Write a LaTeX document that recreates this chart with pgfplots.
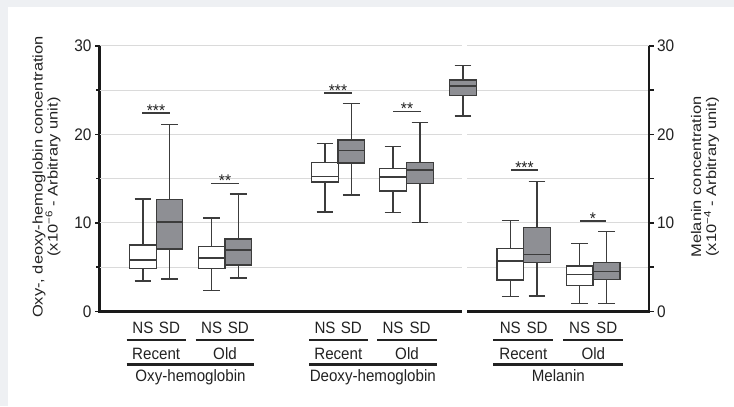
\documentclass[border=0pt]{standalone}
\usepackage{fontspec}
\setmainfont{Liberation Sans}[FakeStretch=0.92]
\newfontfamily\rotfont{Liberation Sans}[FakeStretch=1.18]
\usepackage{pgfplots}
\usepgfplotslibrary{statistics}
\pgfplotsset{compat=1.18}
\definecolor{txt}{HTML}{222222}
\definecolor{gridc}{HTML}{DADADA}
\definecolor{boxc}{HTML}{3C3C3C}
\definecolor{sdfill}{HTML}{8E8F94}
\definecolor{bgc}{HTML}{EEF0F3}
\definecolor{axc}{HTML}{1A1A1A}
\pgfplotsset{
  ns/.style={fill=white, draw=boxc, line width=1.25bp, solid},
  sd/.style={fill=sdfill, draw=boxc, line width=1.25bp, solid},
  sig/.style={draw=boxc, line width=1.3bp},
  gl/.style={gridc, line width=1bp, forget plot},
}
\tikzset{stars/.style={anchor=base, yshift=-3bp, inner sep=0pt, text=txt, font=\fontsize{17}{17}\selectfont}}
\begin{document}
\begin{tikzpicture}[x=1bp,y=1bp]
\fill[white] (0,0) rectangle (734,406);
\fill[bgc] (0,0) rectangle (8,406);
\fill[bgc] (0,399) rectangle (734,406);
\begin{axis}[
  at={(99.5bp,94.7bp)}, anchor=south west, scale only axis,
  width=549.5bp, height=265.3bp,
  xmin=99.5, xmax=649, ymin=0, ymax=30, clip=false,
  axis x line=none, axis y line*=left,
  axis line style={line width=2.8bp, color=axc},
  ytick={0,10,20,30}, minor ytick={5,15,25},
  tick align=outside, major tick length=4.5bp, minor tick length=3.5bp,
  tick style={line width=1.6bp, color=axc},
  yticklabel style={font=\fontsize{16.8}{17}\selectfont, text=txt},
  /pgf/number format/assume math mode=true,
  boxplot/draw direction=y,
  boxplot/box extend=26.5,
  boxplot/whisker extend=16.7,
]
% grid lines (with gap between panels)
\addplot[gl] coordinates {(99.5,5) (462,5)};
\addplot[gl] coordinates {(467,5) (649,5)};
\addplot[gl] coordinates {(99.5,10) (462,10)};
\addplot[gl] coordinates {(467,10) (649,10)};
\addplot[gl] coordinates {(99.5,15) (462,15)};
\addplot[gl] coordinates {(467,15) (649,15)};
\addplot[gl] coordinates {(99.5,20) (462,20)};
\addplot[gl] coordinates {(467,20) (649,20)};
\addplot[gl] coordinates {(99.5,25) (462,25)};
\addplot[gl] coordinates {(467,25) (649,25)};
\addplot[gl] coordinates {(99.5,30) (462,30)};
\addplot[gl] coordinates {(467,30) (649,30)};
% Oxy-hemoglobin
\addplot[ns, boxplot prepared={draw position=143, lower whisker=3.43, lower quartile=4.82, median=5.8, upper quartile=7.5, upper whisker=12.7}] coordinates {};
\addplot[sd, boxplot prepared={draw position=169.5, lower whisker=3.65, lower quartile=7.04, median=10.1, upper quartile=12.66, upper whisker=21.1}] coordinates {};
\addplot[ns, boxplot prepared={draw position=211.7, lower whisker=2.33, lower quartile=4.82, median=6.03, upper quartile=7.35, upper whisker=10.55}] coordinates {};
\addplot[sd, boxplot prepared={draw position=238.3, lower whisker=3.76, lower quartile=5.23, median=6.93, upper quartile=8.17, upper whisker=13.26}] coordinates {};
% Deoxy-hemoglobin
\addplot[ns, boxplot prepared={draw position=325, lower whisker=11.23, lower quartile=14.62, median=15.26, upper quartile=16.85, upper whisker=19.0}] coordinates {};
\addplot[sd, boxplot prepared={draw position=351.3, lower whisker=13.15, lower quartile=16.77, median=18.2, upper quartile=19.37, upper whisker=23.47}] coordinates {};
\addplot[ns, boxplot prepared={draw position=393, lower whisker=11.15, lower quartile=13.6, median=15.18, upper quartile=16.17, upper whisker=18.6}] coordinates {};
\addplot[sd, boxplot prepared={draw position=420, lower whisker=10.02, lower quartile=14.43, median=15.97, upper quartile=16.85, upper whisker=21.37}] coordinates {};
% reference box
\addplot[sd, boxplot prepared={draw position=463, lower whisker=22.08, lower quartile=24.38, median=25.47, upper quartile=26.15, upper whisker=27.8}] coordinates {};
% Melanin
\addplot[ns, boxplot prepared={draw position=510.3, lower whisker=1.65, lower quartile=3.54, median=5.69, upper quartile=7.12, upper whisker=10.29}] coordinates {};
\addplot[sd, boxplot prepared={draw position=537, lower whisker=1.73, lower quartile=5.49, median=6.44, upper quartile=9.5, upper whisker=14.65}] coordinates {};
\addplot[ns, boxplot prepared={draw position=579.7, lower whisker=0.9, lower quartile=2.94, median=4.18, upper quartile=5.12, upper whisker=7.64}] coordinates {};
\addplot[sd, boxplot prepared={draw position=606.7, lower whisker=0.9, lower quartile=3.62, median=4.52, upper quartile=5.54, upper whisker=9.0}] coordinates {};
% significance bars
\addplot[sig, forget plot] coordinates {(142,22.42) (170,22.42)};
\addplot[sig, forget plot] coordinates {(211,14.43) (239,14.43)};
\addplot[sig, forget plot] coordinates {(324,24.68) (352,24.68)};
\addplot[sig, forget plot] coordinates {(393,22.57) (421,22.57)};
\addplot[sig, forget plot] coordinates {(511,15.97) (538,15.97)};
\addplot[sig, forget plot] coordinates {(580,10.21) (606,10.21)};
\node[stars] at (axis cs:156,22.42) {***};
\node[stars] at (axis cs:225,14.43) {**};
\node[stars] at (axis cs:338,24.68) {***};
\node[stars] at (axis cs:407,22.57) {**};
\node[stars] at (axis cs:524.5,15.97) {***};
\node[stars] at (axis cs:593,10.21) {*};
% bottom axis line with gap
\addplot[axc, line width=2.8bp, forget plot] coordinates {(98.1,0) (462,0)};
\addplot[axc, line width=2.8bp, forget plot] coordinates {(467,0) (650.4,0)};
\end{axis}
\begin{axis}[
  at={(99.5bp,94.7bp)}, anchor=south west, scale only axis,
  width=549.5bp, height=265.3bp,
  xmin=99.5, xmax=649, ymin=0, ymax=30,
  axis x line=none, axis y line*=right,
  axis line style={line width=2.8bp, color=axc},
  ytick={0,10,20,30}, minor ytick={5,15,25},
  tick align=outside, major tick length=4.5bp, minor tick length=4.5bp,
  tick style={line width=1.6bp, color=axc},
  yticklabel style={font=\fontsize{16.8}{17}\selectfont, text=txt},
  /pgf/number format/assume math mode=true,
]
\addplot[draw=none, forget plot] coordinates {(300,0)};
\end{axis}
% axis titles
\node[rotate=90, align=center, text=txt, font=\rotfont\fontsize{14}{15}\selectfont] at (46.5,229)
  {Oxy-, deoxy-hemoglobin concentration\\(x10\textsuperscript{−6} - Arbitrary unit)};
\node[rotate=90, align=center, text=txt, font=\rotfont\fontsize{14}{15}\selectfont] at (705,229)
  {Melanin concentration\\(x10\textsuperscript{−4} - Arbitrary unit)};
% category labels
\begin{scope}[every node/.style={anchor=base, inner sep=0pt, text=txt, font=\fontsize{16.5}{16}\selectfont}]
\foreach \xx in {143,211.7,325,393,510.3,579.7} \node at (\xx,72.7) {NS};
\foreach \xx in {169.5,238.3,351.3,420,537,606.7} \node at (\xx,72.7) {SD};
\foreach \xx in {156.2,338.3,523.3} \node at (\xx,47) {Recent};
\foreach \xx in {225,407,593.3} \node at (\xx,47) {Old};
\node at (190.5,24.3) {Oxy-hemoglobin};
\node at (372.8,24.3) {Deoxy-hemoglobin};
\node at (558.3,24.3) {Melanin};
\end{scope}
\begin{scope}[draw=txt, line width=2.2bp]
\draw (126.7,66) -- (185.7,66);
\draw (195.7,66) -- (254.3,66);
\draw (309,66) -- (367.7,66);
\draw (377.3,66) -- (436.7,66);
\draw (493.3,66) -- (553.3,66);
\draw (563.3,66) -- (623.3,66);
\draw (126.7,41.5) -- (254.3,41.5);
\draw (309,41.5) -- (436.7,41.5);
\draw (493.3,41.5) -- (623.3,41.5);
\end{scope}
\end{tikzpicture}
\end{document}
